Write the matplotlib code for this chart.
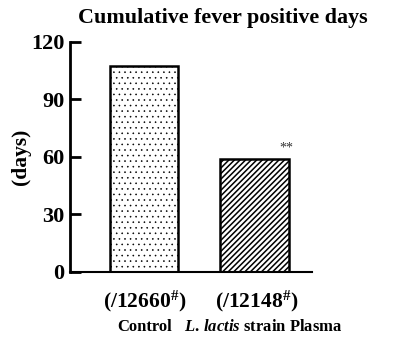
import numpy as np
import matplotlib
matplotlib.use('Agg')
import matplotlib.pyplot as plt

# Data
groups = ['Control', 'L. lactis strain Plasma']
days = [107.5, 59]
counts = ['12660', '12148']
yticks = [0, 30, 60, 90, 120]

plt.rcParams['font.family'] = 'Liberation Serif'
plt.rcParams['font.weight'] = 'bold'
plt.rcParams['mathtext.fontset'] = 'custom'
plt.rcParams['mathtext.rm'] = 'Liberation Serif:bold'
plt.rcParams['mathtext.it'] = 'Liberation Serif:italic'
plt.rcParams['mathtext.bf'] = 'Liberation Serif:bold'

fig = plt.figure(figsize=(4.16, 3.46), dpi=100)
ax = fig.add_axes([0.168, 0.214, 0.582, 0.665])

r = np.arange(len(days))
hatches = ['...', '//////']
hlw = [0.4, 1.1]
for i in r:
    plt.rcParams['hatch.linewidth'] = hlw[i]
    b = ax.bar(r[i], days[i], width=0.62, color='white', edgecolor='black',
               linewidth=1.8, hatch=hatches[i])
    for p in b:
        if hasattr(p, 'set_hatch_linewidth'):
            p.set_hatch_linewidth(hlw[i])

ax.text(r[1] + 0.29, days[1] + 2, '**', ha='center', va='bottom', fontsize=10,
        fontweight='normal', color='#333333')

ax.set_xlim(-0.673, 1.52)
ax.set_ylim(0, 120)
ax.set_yticks(yticks)
ax.tick_params(axis='y', direction='in', length=8, width=2, labelsize=16, pad=4)
ax.set_xticks([])
for s in ['top', 'right']:
    ax.spines[s].set_visible(False)
ax.spines['left'].set_linewidth(2)
ax.spines['bottom'].set_linewidth(1.5)

# Labels under bars
for i in r:
    ax.text(r[i] + 0.02 * i, -0.075, '(/' + counts[i] + r'$^{\#}$)', transform=ax.get_xaxis_transform(),
            ha='center', va='top', fontsize=15.5)
ax.text(r[0], -0.205, 'Control', transform=ax.get_xaxis_transform(),
        ha='center', va='top', fontsize=12)
ax.text(r[1] + 0.08, -0.205, r'$\it{L.\,lactis}$ strain Plasma', transform=ax.get_xaxis_transform(),
        ha='center', va='top', fontsize=12)

ax.set_ylabel('(days)', fontsize=15.5, fontweight='bold', labelpad=0)
fig.text(0.535, 0.948, 'Cumulative fever positive days', ha='center', va='center',
         fontsize=15.8, fontweight='bold')

fig.savefig('out.png', dpi=100)
